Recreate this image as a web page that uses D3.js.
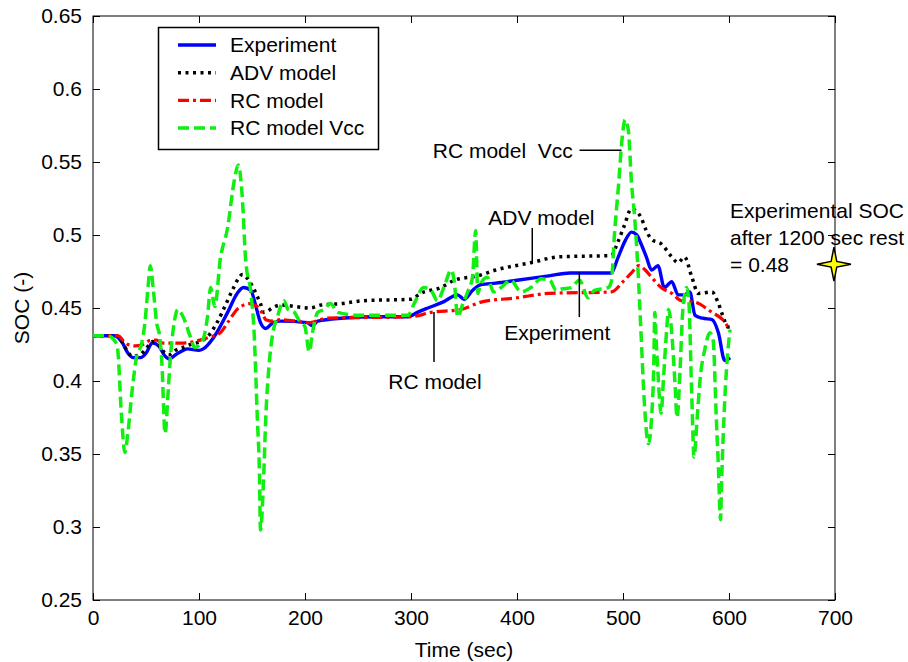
<!DOCTYPE html>
<html><head><meta charset="utf-8">
<script src="https://cdn.jsdelivr.net/npm/d3@7"></script>
<style>
body{margin:0;background:#fff}
svg{display:block}
text{font-family:"Liberation Sans",Arial,sans-serif;fill:#000;white-space:pre}
</style>
</head><body>
<svg id="c" width="908" height="662"></svg>
<script>
// ---- data ----
const seriesNames = ["Experiment","ADV model","RC model","RC model Vcc"];

const expT = [0,20,27,33,38,45,50,56,62,68,72,78,85,89,100,104,114,127,136,142,149,153,158,163,170,177,202,207,212,234,270,297,306,316,330,344,350,358,366,380,400,430,450,489,495,502,508,513,517,522,527,533,539,546,552,558,563,568,575,584,590,596,601];
const expV = [0.431,0.431,0.427,0.419,0.416,0.416,0.419,0.426,0.424,0.417,0.415,0.418,0.421,0.422,0.421,0.422,0.430,0.447,0.460,0.464,0.462,0.453,0.440,0.436,0.440,0.441,0.440,0.438,0.441,0.443,0.444,0.444,0.447,0.450,0.454,0.459,0.456,0.462,0.466,0.467,0.469,0.472,0.474,0.474,0.484,0.496,0.502,0.500,0.494,0.485,0.476,0.479,0.464,0.468,0.459,0.459,0.461,0.445,0.443,0.442,0.433,0.414,0.416];

const advT = [0,22,28,32,37,44,50,56,62,68,72,78,85,92,101,110,117,125,132,137,141,146,151,155,158,161,165,169,177,205,215,234,255,300,309,328,341,363,380,413,439,489,495,501,508,513,517,522,527,536,546,552,558,565,571,584,589,594,599,602];
const advV = [0.431,0.431,0.426,0.421,0.417,0.418,0.422,0.427,0.425,0.419,0.418,0.421,0.423,0.425,0.427,0.432,0.440,0.452,0.463,0.470,0.473,0.470,0.464,0.458,0.453,0.447,0.448,0.450,0.452,0.450,0.452,0.453,0.455,0.456,0.460,0.464,0.469,0.472,0.476,0.481,0.485,0.486,0.495,0.506,0.518,0.516,0.512,0.503,0.497,0.494,0.485,0.481,0.485,0.471,0.460,0.461,0.455,0.445,0.437,0.437];

const rcT = [0,24,28,33,40,47,55,60,66,70,85,101,110,120,128,136,142,147,155,160,163,170,177,205,220,300,319,347,366,400,430,489,500,508,515,521,527,536,546,555,568,584,594,601];
const rcV = [0.431,0.431,0.428,0.425,0.424,0.425,0.428,0.428,0.426,0.426,0.426,0.428,0.430,0.433,0.441,0.449,0.452,0.453,0.451,0.446,0.442,0.441,0.442,0.440,0.443,0.444,0.447,0.449,0.454,0.457,0.460,0.461,0.468,0.474,0.479,0.476,0.471,0.464,0.460,0.455,0.454,0.447,0.442,0.435];

const vccT = [0,14,20,23,27,30,33,37,41,46,49,52,54,57,60,63,65,68,71,73,76,80,85,92,96,103,108,111,113,115,120,127,133,137,141,144,149,152,155,157,158,161,163,166,169,174,180,184,190,194,200,204,207,212,218,224,231,250,297,303,312,319,325,331,338,341,344,349,354,358,361,363,366,372,378,385,394,404,413,423,431,437,442,451,459,467,473,486,489,492,496,499,502,505,508,511,514,517,520,524,527,529,530,531,533,536,538,541,543,546,549,551,554,556,559,560,562,565,567,570,573,577,582,585,588,590,592,593,596,599,601];
const vccV = [0.431,0.431,0.428,0.423,0.375,0.351,0.365,0.394,0.416,0.426,0.440,0.465,0.479,0.462,0.440,0.430,0.412,0.364,0.394,0.416,0.437,0.449,0.444,0.430,0.423,0.427,0.444,0.464,0.457,0.451,0.483,0.505,0.536,0.548,0.524,0.483,0.460,0.433,0.375,0.337,0.298,0.334,0.375,0.410,0.430,0.444,0.455,0.449,0.447,0.442,0.437,0.420,0.433,0.447,0.449,0.453,0.447,0.445,0.445,0.453,0.464,0.462,0.455,0.464,0.476,0.467,0.444,0.453,0.462,0.471,0.503,0.460,0.467,0.471,0.461,0.464,0.469,0.461,0.464,0.470,0.469,0.462,0.463,0.464,0.469,0.457,0.462,0.464,0.468,0.501,0.536,0.565,0.579,0.572,0.536,0.512,0.478,0.433,0.387,0.357,0.375,0.410,0.447,0.433,0.405,0.378,0.399,0.433,0.449,0.433,0.399,0.375,0.410,0.444,0.462,0.464,0.456,0.387,0.348,0.375,0.403,0.421,0.433,0.428,0.375,0.341,0.305,0.330,0.387,0.421,0.435];

const xTicks = [0,100,200,300,400,500,600,700];
const yTicks = [0.25,0.3,0.35,0.4,0.45,0.5,0.55,0.6,0.65];

// annotations in data units
const annoTexts = ["RC model  Vcc","ADV model","Experiment","RC model"];
const annoTextPos = [[320.5,0.558],[423,0.5116],[438,0.4329],[322.6,0.3993]];
const annoLines = [[[459,0.558],[498.6,0.558]],[[414.4,0.5048],[414.4,0.4808]],[[458.8,0.4438],[458.8,0.4747]],[[321.7,0.413],[321.7,0.4473]]];
const restLines = ["Experimental SOC","after 1200 sec rest","= 0.48"];
const restLineV = [0.517,0.4985,0.480];
const restTextT = 601;
const starPoint = [699,0.48];

// ---- drawing ----
const svg = d3.select("#c");
const L=93,R=835,T=16,B=600;
const x = d3.scaleLinear().domain([0,700]).range([L,R]);
const y = d3.scaleLinear().domain([0.25,0.65]).range([B,T]);
const FS = 21;

svg.append("defs").append("clipPath").attr("id","clip")
  .append("rect").attr("x",L).attr("y",T).attr("width",R-L).attr("height",B-T);

// axes
const fmt = v => String(+v.toFixed(2));
const gx = svg.append("g").attr("transform",`translate(0,${B})`)
  .call(d3.axisBottom(x).tickValues(xTicks).tickSize(-7).tickSizeOuter(0).tickPadding(10).tickFormat(d3.format("d")));
const gy = svg.append("g").attr("transform",`translate(${L},0)`)
  .call(d3.axisLeft(y).tickValues(yTicks).tickSize(-7).tickSizeOuter(0).tickPadding(11).tickFormat(fmt));
const gx2 = svg.append("g").attr("transform",`translate(0,${T})`)
  .call(d3.axisTop(x).tickValues(xTicks).tickSize(-7).tickSizeOuter(0).tickFormat(""));
const gy2 = svg.append("g").attr("transform",`translate(${R},0)`)
  .call(d3.axisRight(y).tickValues(yTicks).tickSize(-7).tickSizeOuter(0).tickFormat(""));
[gx,gy,gx2,gy2].forEach(g=>{
  g.select(".domain").remove();
  g.selectAll("line").attr("stroke","#000").attr("stroke-width",1);
  g.selectAll("text").attr("font-size",FS).attr("font-family","Liberation Sans, Arial, sans-serif").attr("fill","#000");
});
svg.append("rect").attr("x",L).attr("y",T).attr("width",R-L).attr("height",B-T)
  .attr("fill","none").attr("stroke","#000").attr("stroke-width",1);

svg.append("text").attr("x",(L+R)/2).attr("y",650).attr("dy","0.35em").attr("text-anchor","middle")
  .attr("font-size",FS).text("Time (sec)");
svg.append("text").attr("transform",`translate(22,${(T+B)/2}) rotate(-90)`).attr("dy","0.35em")
  .attr("text-anchor","middle").attr("font-size",FS).text("SOC (-)");

// series
const styles = [
  {color:"#0000ff", width:3.4, dash:null},
  {color:"#000000", width:3.5, dash:"3,4.5"},
  {color:"#ff0000", width:3.2, dash:"11,4,3,4"},
  {color:"#11ee11", width:3.5, dash:"11,5"}
];
const data = [d3.zip(expT,expV), d3.zip(advT,advV), d3.zip(rcT,rcV), d3.zip(vccT,vccV)];
const line = d3.line().x(d=>x(d[0])).y(d=>y(d[1])).curve(d3.curveMonotoneX);
const gl = svg.append("g").attr("clip-path","url(#clip)");
data.forEach((d,i)=>{
  gl.append("path").datum(d).attr("d",line).attr("fill","none")
    .attr("stroke",styles[i].color).attr("stroke-width",styles[i].width)
    .attr("stroke-dasharray",styles[i].dash).attr("stroke-linejoin","round");
});

// annotations
annoTexts.forEach((t,i)=>{
  const anchor = i===0 ? "start" : "middle";
  svg.append("text").attr("x",x(annoTextPos[i][0])).attr("y",y(annoTextPos[i][1]))
    .attr("dy","0.35em").attr("text-anchor",anchor).attr("font-size",FS)
    .attr("xml:space","preserve").text(t);
  const l = annoLines[i];
  svg.append("line").attr("x1",x(l[0][0])).attr("y1",y(l[0][1])).attr("x2",x(l[1][0])).attr("y2",y(l[1][1]))
    .attr("stroke","#000").attr("stroke-width",1.5);
});
restLines.forEach((t,i)=>{
  svg.append("text").attr("x",x(restTextT)).attr("y",y(restLineV[i])).attr("dy","0.35em")
    .attr("font-size",FS).text(t);
});
// star
const sx = x(starPoint[0]), sy = y(starPoint[1]);
const pts = d3.range(8).map(i=>{
  const a = i*Math.PI/4 - Math.PI/2, r = i%2===0 ? 17 : 4;
  return [sx + r*Math.cos(a), sy + r*Math.sin(a)];
});
svg.append("path").attr("d","M"+pts.join("L")+"Z").attr("fill","#ffff00").attr("stroke","#000").attr("stroke-width",1.5);

// legend
const lg = svg.append("g");
lg.append("rect").attr("x",158.5).attr("y",27.5).attr("width",220).attr("height",122)
  .attr("fill","#fff").attr("stroke","#000").attr("stroke-width",1.5);
seriesNames.forEach((n,i)=>{
  const yy = 45 + i*27.7;
  lg.append("line").attr("x1",178).attr("x2",216).attr("y1",yy).attr("y2",yy)
    .attr("stroke",styles[i].color).attr("stroke-width",styles[i].width).attr("stroke-dasharray",styles[i].dash);
  lg.append("text").attr("x",230).attr("y",yy).attr("dy","0.35em").attr("font-size",FS).text(n);
});
</script>
</body></html>
